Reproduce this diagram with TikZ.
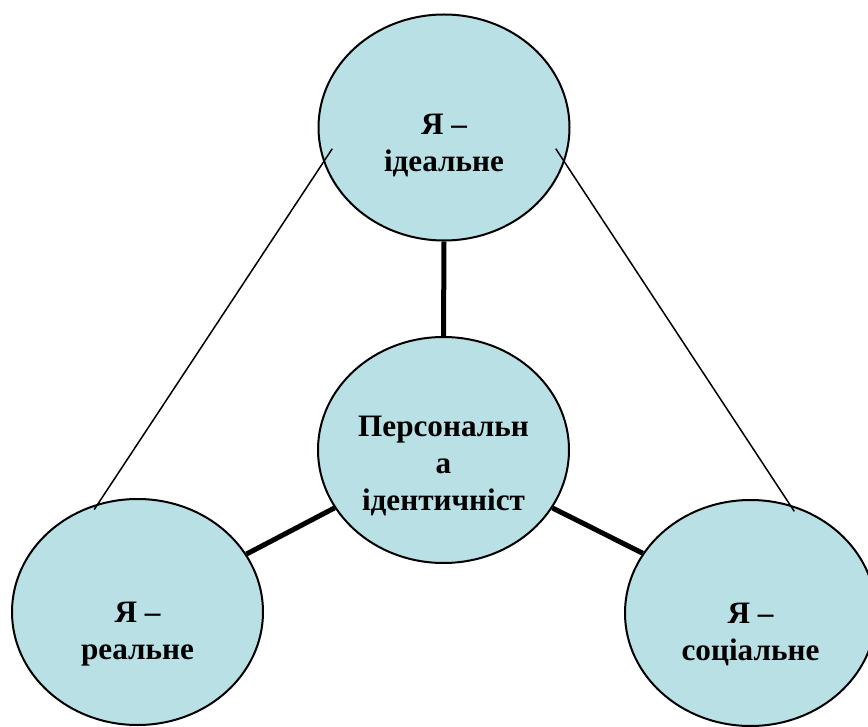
\documentclass[tikz,border=0pt]{standalone}
\usepackage{fontspec}
\setmainfont{Liberation Serif}
\usepackage{tikz}
\usetikzlibrary{shapes.geometric}
\definecolor{selfblue}{RGB}{185,224,228}
\tikzset{
  self/.style = {ellipse, draw, line width = 1pt, fill = selfblue,
    minimum width = 125.5pt, minimum height = 113pt, inner sep = 0pt},
  selftext/.style = {font = \bfseries\fontsize{15.6}{18.5}\selectfont, align = center},
  weaklink/.style = {line width = 0.75pt},
  stronglink/.style = {line width = 2.5pt}
}

\begin{document}
\begin{tikzpicture} [x = 1pt, y = 1pt]
    \useasboundingbox (0,0) rectangle (434,-363.5);
    \node [self] (ideal) at (222,-63.75) {};
    \node [self] (person) at (221.75,-225) {};
    \node [self] (real) at (68.75,-306) {};
    \node [self] (social) at (375.25,-306.5) {};
    \node [selftext] (idealtext) at ([yshift=-9pt]ideal.center) {Я –\\ідеальне};
    \node [selftext] (persontext) at ([yshift=-8pt]person.center) {Персональн\\а\\ідентичніст};
    \node [selftext] (realtext) at ([yshift=-11pt]real.center) {Я –\\реальне};
    \node [selftext] (socialtext) at ([yshift=-10.5pt]social.center) {Я –\\соціальне};
    \draw [weaklink, shorten <= -8pt, shorten >= -3.5pt] (ideal.196) -- (real.110);
    \draw [weaklink, shorten <= -8pt, shorten >= -4pt] (ideal.344) -- (social.70);
    \draw [stronglink] (ideal.270) -- (person.90);
    \draw [stronglink] (person.208) -- (real.28);
    \draw [stronglink] (person.332) -- (social.151);
  \end{tikzpicture}
\end{document}
